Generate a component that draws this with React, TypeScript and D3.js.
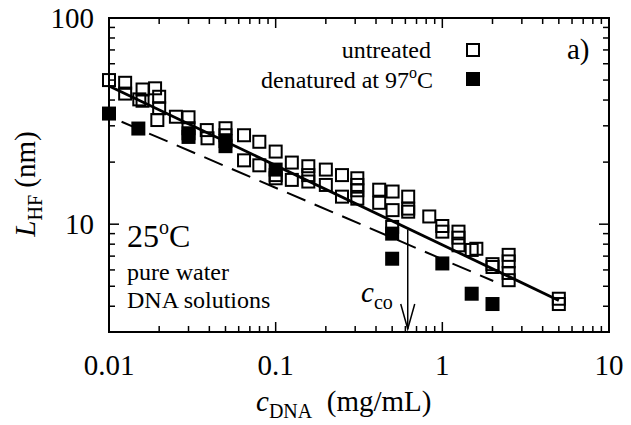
import { useEffect } from 'react';
import * as d3 from 'd3';

// untreated DNA (open squares)
const untreatedConc = [
  0.01, 0.0125, 0.0125, 0.0159, 0.0152, 0.0159, 0.0189, 0.02, 0.02, 0.0195,
  0.0252, 0.03, 0.03, 0.0386, 0.039, 0.05, 0.05, 0.0646, 0.0646, 0.0798,
  0.0798, 0.1, 0.1, 0.1, 0.125, 0.125, 0.157, 0.157, 0.157, 0.2,
  0.2, 0.25, 0.25, 0.309, 0.309, 0.309, 0.309, 0.418, 0.418, 0.503,
  0.503, 0.5, 0.624, 0.624, 0.624, 0.835, 1.0, 1.0, 1.25, 1.25,
  1.25, 1.5, 1.6, 2.0, 2.0, 2.5, 2.5, 2.5, 2.5, 5.0, 5.0,
];
const untreatedLen = [
  50, 48.5, 43, 45, 40.3, 39.7, 45.6, 41.5, 36.5, 32,
  33.2, 33, 29.2, 28.6, 26.1, 29.2, 27, 27, 20.4, 25.1,
  19.3, 22.5, 17.3, 16.7, 19.9, 16.4, 19.1, 17.3, 16.1, 18.4,
  15.5, 17.3, 13.6, 16.7, 15.5, 14.6, 13.3, 14.7, 12.7, 14.4,
  11.7, 9.7, 13.6, 11.9, 11.5, 10.9, 9.8, 9.2, 9.2, 7.9,
  8.6, 7.5, 7.6, 6.4, 6.2, 7.1, 6.6, 5.8, 5.35, 4.35, 4.1,
];

// denatured at 97 C (filled squares)
const denaturedConc = [0.01, 0.015, 0.03, 0.03, 0.05, 0.05, 0.1, 0.5, 0.5, 1.0, 1.5, 2.0];
const denaturedLen = [34.4, 29.1, 27.6, 26.5, 25.3, 23.9, 18.4, 9.0, 6.8, 6.45, 4.6, 4.1];

// power-law fits (end points in data units)
const untreatedFit = [[0.01, 46.8], [5, 4.27]];
const denaturedFit = [[0.0119, 31.4], [2.02, 5.3]];

// crossover concentration marker
const cco = 0.62;
const ccoArrow = [9.4, 3.1];

const xTickLabels = ['0.01', '0.1', '1', '10'];
const yTickLabels = ['10', '100'];

const W = 631;
const H = 425;
const margin = { top: 18, right: 22, bottom: 93, left: 109 };
const font = '"Liberation Serif", "Times New Roman", "DejaVu Serif", serif';
const tx = { fontFamily: font };

export default function App() {
  useEffect(() => {
    document.body.style.margin = '0';
  }, []);

  const x = d3.scaleLog().domain([0.01, 10]).range([margin.left, W - margin.right]);
  const y = d3.scaleLog().domain([3, 100]).range([H - margin.bottom, margin.top]);
  const [x0, x1] = x.range();
  const [y0, y1] = y.range();

  const isMajor = (v: number) => Math.abs(Math.log10(v) - Math.round(Math.log10(v))) < 1e-6;
  const xTicks = x.ticks();
  const yTicks = y.ticks();

  const line = d3
    .line<number[]>()
    .x((d) => x(d[0]))
    .y((d) => y(d[1]));

  const sq = 12;
  const ax = x(cco);
  const aTop = y(ccoArrow[0]);
  const aTip = y(ccoArrow[1]);

  return (
    <svg width={W} height={H} style={{ display: 'block', background: '#fff', fontFamily: font }}>
      {/* ticks on all four sides, pointing inward */}
      <g stroke="#000" strokeWidth={1.5}>
        {xTicks.map((t, i) => {
          const len = isMajor(t) ? 10 : 6;
          return (
            <g key={'xt' + i}>
              <line x1={x(t)} x2={x(t)} y1={y0} y2={y0 - len} />
              <line x1={x(t)} x2={x(t)} y1={y1} y2={y1 + len} />
            </g>
          );
        })}
        {yTicks.map((t, i) => {
          const len = isMajor(t) ? 10 : 6;
          return (
            <g key={'yt' + i}>
              <line x1={x0} x2={x0 + len} y1={y(t)} y2={y(t)} />
              <line x1={x1} x2={x1 - len} y1={y(t)} y2={y(t)} />
            </g>
          );
        })}
      </g>
      <rect x={x0} y={y1} width={x1 - x0} height={y0 - y1} fill="none" stroke="#000" strokeWidth={2} />

      {/* tick labels */}
      {xTickLabels.map((l) => (
        <text key={l} x={x(+l)} y={375} fontSize={29} textAnchor="middle" style={tx}>{l}</text>
      ))}
      {yTickLabels.map((l) => (
        <text key={l} x={94} y={y(+l)} dy="0.35em" fontSize={29} textAnchor="end" style={tx}>{l}</text>
      ))}

      {/* axis titles */}
      <text x={256} y={411} fontSize={29} style={tx}>
        <tspan fontStyle="italic">c</tspan>
        <tspan fontSize={20} dy={7}>DNA</tspan>
        <tspan dy={-7} xmlSpace="preserve">{'  (mg/mL)'}</tspan>
      </text>
      <text transform="translate(35,184) rotate(-90)" fontSize={29} textAnchor="middle" style={tx}>
        <tspan fontStyle="italic">L</tspan>
        <tspan fontSize={20} dy={7}>HF</tspan>
        <tspan dy={-7}> (nm)</tspan>
      </text>

      {/* fits */}
      <path d={line(untreatedFit) || ''} fill="none" stroke="#000" strokeWidth={2.8} />
      <path d={line(denaturedFit) || ''} fill="none" stroke="#000" strokeWidth={2} strokeDasharray="20,10" />

      {/* data */}
      {untreatedConc.map((c, i) => (
        <rect key={'u' + i} x={x(c) - sq / 2} y={y(untreatedLen[i]) - sq / 2} width={sq} height={sq}
          fill="none" stroke="#000" strokeWidth={2} />
      ))}
      {denaturedConc.map((c, i) => (
        <rect key={'d' + i} x={x(c) - (sq + 2) / 2} y={y(denaturedLen[i]) - (sq + 2) / 2} width={sq + 2} height={sq + 2}
          fill="#000" />
      ))}

      {/* c_co arrow */}
      <g stroke="#000" strokeWidth={1.5} fill="none">
        <line x1={ax} x2={ax} y1={aTop} y2={aTip} />
        <polyline points={`${ax - 7},${aTip - 25} ${ax},${aTip} ${ax + 7},${aTip - 25}`} />
      </g>
      <text x={361} y={302} fontSize={29} style={tx}>
        <tspan fontStyle="italic">c</tspan>
        <tspan fontSize={20} dy={7}>co</tspan>
      </text>

      {/* legend */}
      <text x={431} y={58} fontSize={24} textAnchor="end" style={tx}>untreated</text>
      <rect x={473 - sq / 2} y={50 - sq / 2} width={sq} height={sq} fill="none" stroke="#000" strokeWidth={2} />
      <text x={433} y={88} fontSize={24} textAnchor="end" style={tx}>
        denatured at 97<tspan fontSize={16} dy={-10}>o</tspan><tspan dy={10}>C</tspan>
      </text>
      <rect x={473 - (sq + 2) / 2} y={79 - (sq + 2) / 2} width={sq + 2} height={sq + 2} fill="#000" />
      <text x={567} y={59} fontSize={29} style={tx}>a)</text>

      {/* annotations */}
      <text x={127} y={247} fontSize={32} style={tx}>
        25<tspan fontSize={20} dy={-13}>o</tspan><tspan dy={13}>C</tspan>
      </text>
      <text x={127} y={280} fontSize={24} style={tx}>pure water</text>
      <text x={127} y={308} fontSize={24} style={tx}>DNA solutions</text>
    </svg>
  );
}
